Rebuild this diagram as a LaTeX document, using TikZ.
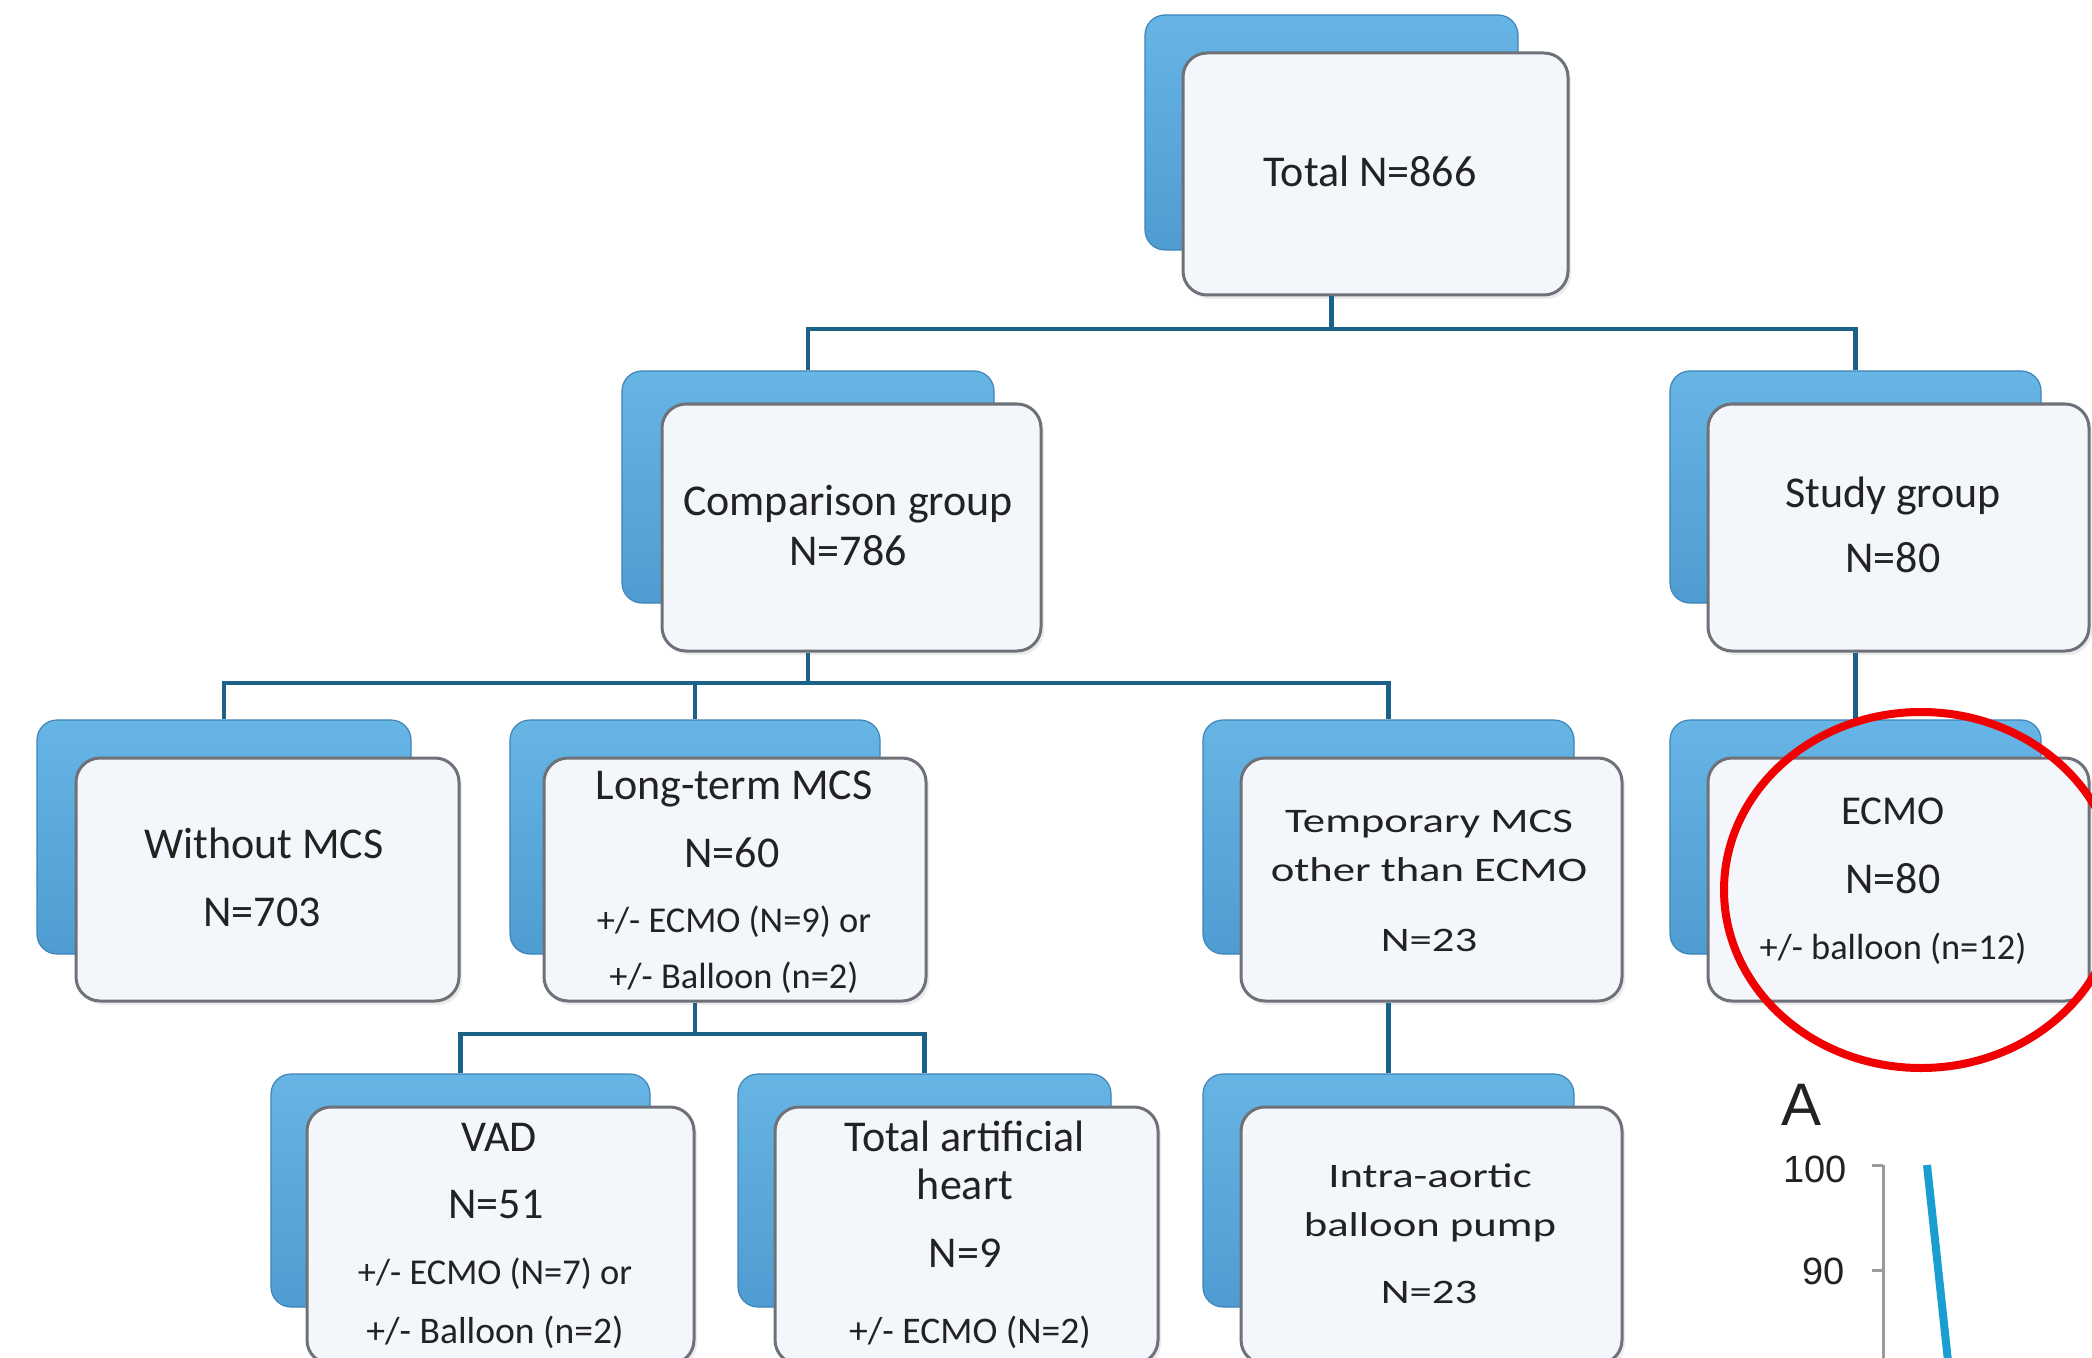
\documentclass[tikz,border=0pt]{standalone}
\usepackage{fontspec}
\setmainfont{Carlito}
\newfontfamily\widefont[FakeStretch=1.3]{Carlito}
\newfontfamily\chartfont{Liberation Sans}
\usetikzlibrary{fit,shadows}
\definecolor{blueT}{HTML}{66B5E5}
\definecolor{blueB}{HTML}{4F9CD2}
\definecolor{blueD}{HTML}{3E84B8}
\definecolor{frontfill}{HTML}{F3F6FB}
\definecolor{frontdraw}{HTML}{6E7278}
\definecolor{conncol}{HTML}{1B6188}
\definecolor{txt}{HTML}{222222}
\definecolor{curvecol}{HTML}{1A9ED2}
\definecolor{axisgray}{HTML}{9A9A9A}
\definecolor{ringred}{HTML}{F00000}
\begin{document}
\begin{tikzpicture}[x=0.5pt,y=-0.5pt,
  backbox/.style={inner sep=0pt, rounded corners=10pt, top color=blueT, bottom color=blueB, draw=blueD, line width=0.6pt},
  frontbox/.style={inner sep=0pt, rounded corners=12pt, fill=frontfill, draw=frontdraw, line width=1.5pt,
     drop shadow={shadow xshift=1.5pt, shadow yshift=-2pt, opacity=0.15}},
  conn/.style={draw=conncol, line width=2.4pt},
  lbl/.style={inner sep=0pt, anchor=mid, text=txt, yshift=-4.5pt},
  big/.style={lbl, font=\fontsize{22}{26}\selectfont},
  mlbl/.style={lbl, font=\fontsize{20.5}{24}\selectfont},
  small/.style={lbl, font=\fontsize{18.2}{22}\selectfont},
  smallb/.style={lbl, font=\fontsize{18.8}{22}\selectfont},
  wide/.style={lbl, font=\widefont\fontsize{17.2}{21}\selectfont},
  chartlbl/.style={inner sep=0pt, text=txt, font=\chartfont\fontsize{19}{22}\selectfont}
]
\useasboundingbox (0,0) rectangle (2092,1358);
\clip (0,0) rectangle (2092,1358);
\fill[white] (0,0) rectangle (2092,1358);

% ---- boxes ----
\node[backbox, fit={(1145,15) (1518,250)}] (totB) {};
\node[frontbox, fit={(1183,53) (1568,295)}] (tot) {};

\node[backbox, fit={(622,371) (994,603)}] (cmpB) {};
\node[frontbox, fit={(662,404) (1041,651)}] (cmp) {};

\node[backbox, fit={(1670,371) (2041,603)}] (stdB) {};
\node[frontbox, fit={(1708,404) (2089,651)}] (std) {};

\node[backbox, fit={(37,720) (411,954)}] (woB) {};
\node[frontbox, fit={(76,758) (459,1001)}] (wo) {};

\node[backbox, fit={(510,720) (880,954)}] (ltB) {};
\node[frontbox, fit={(544,758) (926,1001)}] (lt) {};

\node[backbox, fit={(1203,720) (1574,954)}] (tmpB) {};
\node[frontbox, fit={(1241,758) (1622,1001)}] (tmp) {};

\node[backbox, fit={(1670,720) (2041,954)}] (ecB) {};
\node[frontbox, fit={(1708,758) (2089,1001)}] (ec) {};

\node[backbox, fit={(271,1074) (650,1307)}] (vadB) {};
\node[frontbox, fit={(307,1107) (694,1364)}] (vad) {};

\node[backbox, fit={(738,1074) (1111,1307)}] (tahB) {};
\node[frontbox, fit={(775,1107) (1158,1364)}] (tah) {};

\node[backbox, fit={(1203,1074) (1574,1307)}] (iabB) {};
\node[frontbox, fit={(1241,1107) (1622,1364)}] (iab) {};

% ---- connectors ----
\coordinate (h1) at (0,329);
\coordinate (h2) at (0,683);
\coordinate (h3) at (0,1034);
\draw[conn] (totB.center |- tot.south) -- (totB.center |- h1) -| (cmpB.north);
\draw[conn] (totB.center |- h1) -| (stdB.north);
\draw[conn] (cmpB.center |- cmp.south) -- (cmpB.center |- h2) -| (woB.north);
\draw[conn] (cmpB.center |- h2) -| (ltB.north);
\draw[conn] (cmpB.center |- h2) -| (tmpB.north);
\draw[conn] (stdB.center |- std.south) -- (ecB.north);
\draw[conn] (ltB.center |- lt.south) -- (ltB.center |- h3) -| (vadB.north);
\draw[conn] (ltB.center |- h3) -| (tahB.north);
\draw[conn] (tmpB.center |- tmp.south) -- (iabB.north);

% ---- texts ----
\node[big] (t1) at (1370,173) {Total N=866};
\node[big] (t2a) at (848,502) {Comparison group};
\node[big] (t2b) at (848,552) {N=786};
\node[big] (t3a) at (1893,494) {Study group};
\node[big] (t3b) at (1893,559) {N=80};
\node[big] (t4a) at (264,845) {Without MCS};
\node[big] (t4b) at (262,913) {N=703};
\node[big] (t5a) at (734,786) {Long-term MCS};
\node[big] (t5b) at (732,854) {N=60};
\node[small] (t5c) at (734,919) {+/- ECMO (N=9) or};
\node[small] (t5d) at (734,975) {+/- Balloon (n=2)};
\node[wide] (t6a) at (1429,819) {Temporary MCS};
\node[wide] (t6b) at (1429,868) {other than ECMO};
\node[wide] (t6c) at (1429,938) {N=23};
\node[mlbl] (t7a) at (1893,811) {ECMO};
\node[big] (t7b) at (1893,880) {N=80};
\node[small] (t7c) at (1893,946) {+/- balloon (n=12)};
\node[big] (t8a) at (499,1138) {VAD};
\node[big] (t8b) at (496,1205) {N=51};
\node[small] (t8c) at (495,1271) {+/- ECMO (N=7) or};
\node[smallb] (t8d) at (495,1330) {+/- Balloon (n=2)};
\node[big] (t9a) at (965,1138) {Total artificial};
\node[big] (t9b) at (965,1186) {heart};
\node[big] (t9c) at (965,1254) {N=9};
\node[smallb] (t9d) at (970,1330) {+/- ECMO (N=2)};
\node[wide] (t10a) at (1430,1174) {Intra-aortic};
\node[wide] (t10b) at (1430,1223) {balloon pump};
\node[wide] (t10c) at (1429,1290) {N=23};

% ---- highlight ring ----
\draw[ringred, line width=4pt] (1921,890) ellipse [x radius=98.5pt, y radius=89pt];

% ---- chart fragment ----
\node[inner sep=0pt, text=txt, font=\chartfont\fontsize{30}{34}\selectfont] (chA) at (1801,1105) {A};
\node[chartlbl, anchor=east] (y100) at (1847,1169) {100};
\node[chartlbl, anchor=east] (y90) at (1845,1271) {90};
\coordinate (axtop) at (1883,1165);
\coordinate (axbot) at (1883,1370);
\draw[axisgray, line width=1.5pt] (axtop) -- (axbot);
\draw[axisgray, line width=1.5pt] (1872,1165) -- (axtop);
\draw[axisgray, line width=1.5pt] (1872,1270) -- (1883,1270);
\coordinate (cv1) at (1927,1165);
\coordinate (cv2) at (1950,1380);
\draw[curvecol, line width=4pt] (cv1) -- (cv2);
\end{tikzpicture}
\end{document}
